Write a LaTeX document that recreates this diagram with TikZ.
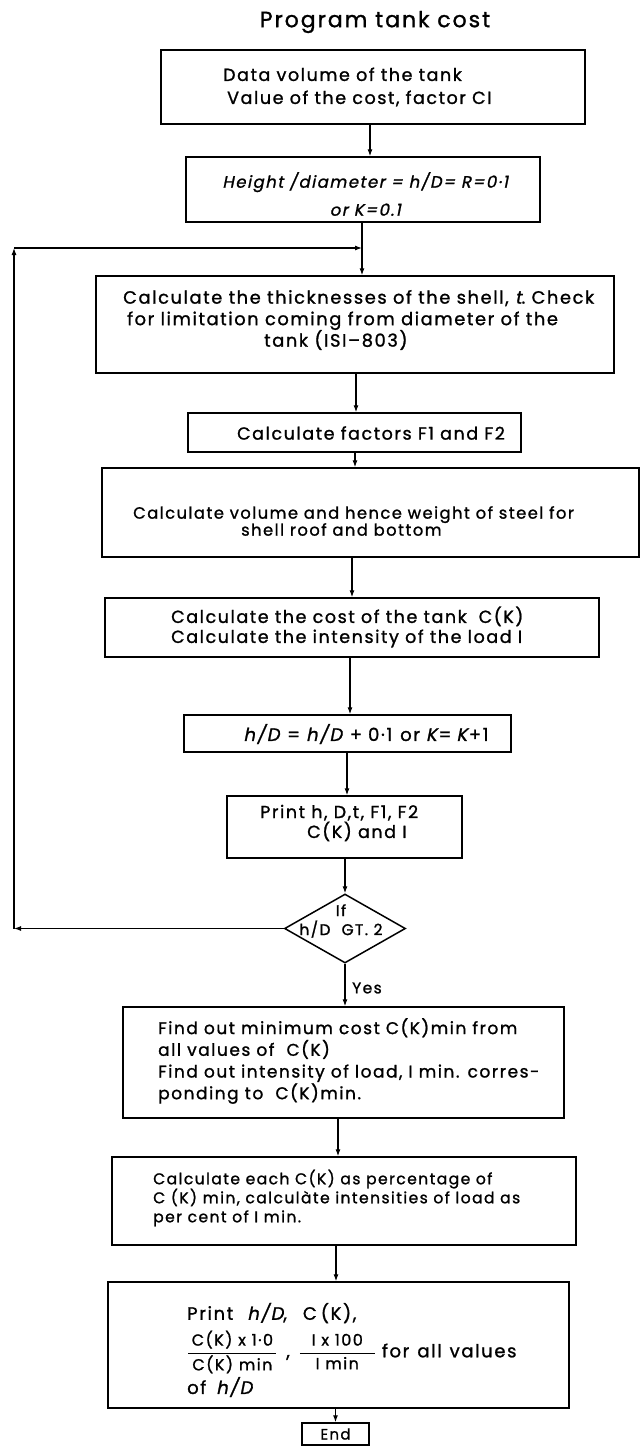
\documentclass[tikz,border=0pt]{standalone}
\usepackage{amsmath}
\usepackage{fontspec}
\setmainfont{Poppins}[LetterSpace=9, FakeBold=1.2, ItalicFont=Poppins, ItalicFeatures={FakeSlant=0.2}]
\usetikzlibrary{arrows.meta,shapes.geometric}
\newcommand\fsz[2]{\fontsize{#1}{#2}\selectfont}
\tikzset{
  box/.style={draw, line width=1.5pt, inner sep=0pt},
  txt/.style={inner sep=0pt, align=left, anchor=west},
  ctxt/.style={inner sep=0pt, align=center},
  conn/.style={line width=1.1pt, -{Latex[length=7pt,width=5pt]}}
}
\begin{document}
\begin{tikzpicture}[x=1pt,y=-1pt]
\fill[white] (0,0) rectangle (641,1446);
\useasboundingbox (0,0) rectangle (641,1446);

% title
\node[ctxt, font=\fsz{22}{24}] (title) at (375,22) {Program tank cost};

% boxes
\node[box, minimum width=424pt, minimum height=74pt] (b1) at (373,87) {};
\node[box, minimum width=354pt, minimum height=65pt] (b2) at (363,189.5) {};
\node[box, minimum width=518pt, minimum height=97pt] (b3) at (355,324.5) {};
\node[box, minimum width=333pt, minimum height=39pt] (b4) at (354.5,432.5) {};
\node[box, minimum width=537pt, minimum height=89pt] (b5) at (370.5,512.5) {};
\node[box, minimum width=494pt, minimum height=59pt] (b6) at (352,627.5) {};
\node[box, minimum width=327pt, minimum height=37pt] (b7) at (347.5,733.5) {};
\node[box, minimum width=235pt, minimum height=62pt] (b8) at (344.5,827) {};
\node[draw, shape=diamond, line width=1.5pt, inner sep=0pt, minimum width=121pt, minimum height=69pt] (dia) at (345,928.5) {};
\node[box, minimum width=441pt, minimum height=111pt] (b9) at (343.5,1062.5) {};
\node[box, minimum width=464pt, minimum height=88pt] (b10) at (344,1201) {};
\node[box, minimum width=461pt, minimum height=126pt] (b11) at (338.5,1345) {};
\node[box, minimum width=67pt, minimum height=22pt, font=\fsz{15}{18}] (end) at (335.5,1434) {End};

% texts
\node[txt, font=\fsz{17.5}{23}] (t1) at (223,87) {Data volume of the tank\\\hspace{4pt}Value of the cost, factor CI};
\node[ctxt, font=\fsz{16.5}{28}] (t2) at (366,194) {\textit{Height /diameter = h/D= R=0·1}\\\textit{or K=0.1}};
\node[txt, font=\fsz{17.8}{21.5}] (t3) at (123,320) {Calculate the thicknesses of the shell, \textit{t}.\ Check\\\hspace{4pt}for limitation coming from diameter of the\\\hspace{141pt}tank (ISI–803)};
\node[ctxt, font=\fsz{17.5}{20}] (t4) at (371,433) {Calculate factors F1 and F2};
\node[txt, font=\fsz{16.3}{17}] (t5) at (133,521) {Calculate volume and hence weight of steel for\\\hspace{108pt}shell roof and bottom};
\node[txt, font=\fsz{17.5}{20}] (t6) at (171,627) {Calculate the cost of the tank\hspace{12pt}C(K)\\Calculate the intensity of the load I};
\node[ctxt, font=\fsz{18}{20}] (t7) at (366,734) {\textit{h/D}\hspace{6pt}=\hspace{6pt}\textit{h/D}\hspace{6pt}+\hspace{6pt}0·1\hspace{8pt}or\hspace{6pt}\textit{K}=\hspace{5pt}\textit{K}+1};
\node[txt, font=\fsz{17.5}{17}] (t8) at (260,823) {Print h, D,t, F1, F2\\\hspace{47pt}C(K) and I};
\node[ctxt, font=\fsz{15.5}{19}] (t9) at (341,921) {If\\h/D\ \ GT. 2};
\node[txt, font=\fsz{15.5}{18}] (yes) at (352,988) {Yes};
\node[txt, font=\fsz{17}{21.7}] (t10) at (158,1061) {Find out minimum cost\ C(K)min from\\all values of\ \ C(K)\\Find out intensity of load, I min. corres-\\ponding to\ \ C(K)min.};
\node[txt, font=\fsz{15.6}{19}] (t11) at (153,1198) {Calculate each\ C(K) as percentage of\\C (K) min, calculàte intensities of load as\\per cent of I min.};
\node[txt, font=\fsz{18}{20}] (t12a) at (187,1313) {Print\hspace{14pt}\textit{h/D},\hspace{16pt}C\hspace{4pt}(K),};
\node[txt, font=\fsz{18}{20}] (t12b) at (187,1352) {{\fsz{16}{16}$\dfrac{\makebox[88pt]{C(K) x 1·0}}{\makebox[88pt]{C(K) min}}$}\makebox[21pt]{,}{\fsz{16}{16}$\dfrac{\makebox[75pt]{I x 100}}{\makebox[75pt]{I min}}$}\hspace{6pt}for\hspace{8pt}all\hspace{8pt}values};
\node[txt, font=\fsz{18}{20}] (t12c) at (187,1387) {of\hspace{10pt}\textit{h/D}};

% connectors
\draw[conn] ([xshift=-3pt]b1.south) -- ([xshift=-3pt]b1.south |- b2.north);
\draw[conn] ([xshift=-1pt]b2.south) -- ([xshift=-1pt]b2.south |- b3.north);
\draw[conn] ([xshift=1pt]b3.south) -- ([xshift=1pt]b3.south |- b4.north);
\draw[conn] ([xshift=0.5pt]b4.south) -- ([xshift=0.5pt]b4.south |- b5.north);
\draw[conn] ([xshift=-18.5pt]b5.south) -- ([xshift=-18.5pt]b5.south |- b6.north);
\draw[conn] ([xshift=-2pt]b6.south) -- ([xshift=-2pt]b6.south |- b7.north);
\draw[conn] ([xshift=-0.5pt]b7.south) -- ([xshift=-0.5pt]b7.south |- b8.north);
\draw[conn] ([xshift=0.5pt]b8.south) -- (dia.north);
\draw[conn] (dia.south) -- (dia.south |- b9.north);
\draw[conn] ([xshift=-5.5pt]b9.south) -- ([xshift=-5.5pt]b9.south |- b10.north);
\draw[conn] ([xshift=-8pt]b10.south) -- ([xshift=-8pt]b10.south |- b11.north);
\draw[conn] ([xshift=-3pt]b11.south) -- (end.north);

% loop back
\coordinate (LB) at (14,928.5);
\coordinate (LT) at (14,248);
\coordinate (J) at (362,248);
\draw[conn] (dia.west) -- (LB);
\draw[conn] (LB) -- (LT);
\draw[conn] (LT) -- (J);
\end{tikzpicture}
\end{document}
